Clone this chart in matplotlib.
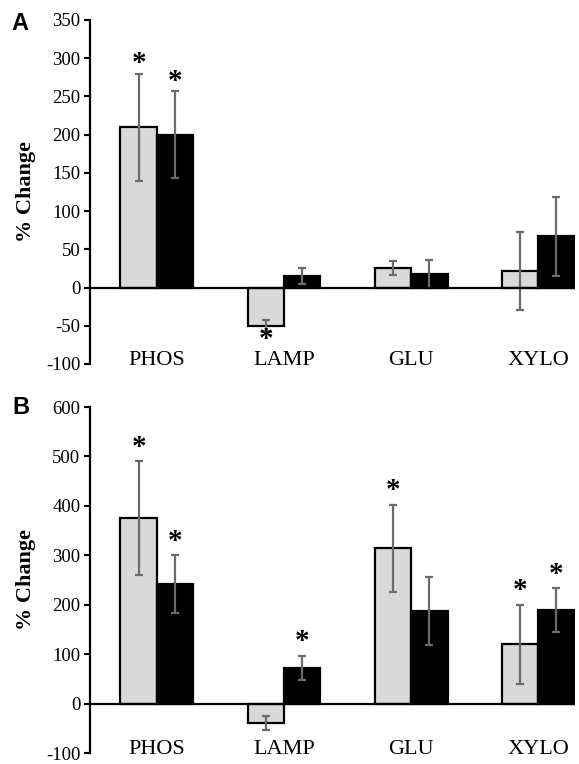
import numpy as np
import matplotlib
matplotlib.use("Agg")
import matplotlib.pyplot as plt

# data
groups = ["PHOS", "LAMP", "GLU", "XYLO"]

a_light = [210, -50, 26, 22]
a_light_err = [70, 7, 9, 51]
a_dark = [200, 15, 18, 67]
a_dark_err = [57, 10, 18, 52]
a_light_star = [True, True, False, False]
a_dark_star = [True, False, False, False]

b_light = [375, -40, 314, 120]
b_light_err = [115, 14, 88, 80]
b_dark = [242, 72, 187, 189]
b_dark_err = [58, 25, 69, 45]
b_light_star = [True, False, True, True]
b_dark_star = [True, True, False, True]

a_ticks = list(range(-100, 351, 50))
b_ticks = list(range(-100, 601, 100))

plt.rcParams["font.family"] = ["Liberation Serif", "DejaVu Serif"]

W, H = 579, 764
fig = plt.figure(figsize=(W / 100, H / 100), dpi=100)


def px_axes(x0, y0, x1, y1):
    # pixel box -> figure fraction
    return fig.add_axes([x0 / W, 1 - y1 / H, (x1 - x0) / W, (y1 - y0) / H])


def panel(ax, light, light_err, dark, dark_err, lstar, dstar, ticks, star_off):
    x = np.arange(len(groups))
    bw = 0.287
    ekw = dict(ecolor="#6b6b6b", elinewidth=1.6, capsize=3, capthick=1.6)
    ax.bar(x - bw / 2, light, bw, color="#d9d9d9", edgecolor="black",
           linewidth=1.6, yerr=light_err, error_kw=ekw, zorder=2)
    ax.bar(x + bw / 2, dark, bw, color="black", edgecolor="black",
           linewidth=1.6, yerr=dark_err, error_kw=ekw, zorder=2)
    ax.axhline(0, color="black", linewidth=1.6, zorder=3)

    for vals, errs, stars, off in [(light, light_err, lstar, -bw / 2),
                                   (dark, dark_err, dstar, bw / 2)]:
        for i, (v, e, s) in enumerate(zip(vals, errs, stars)):
            if not s:
                continue
            if v >= 0:
                y, dy = v + e, star_off
            else:
                y, dy = v - e, -6
            ax.annotate("*", (i + off, y), xytext=(0, dy), textcoords="offset points",
                        ha="center", va="center", fontsize=21, fontweight="bold")

    ax.set_xlim(-0.527, 3.29)
    ax.set_ylim(ticks[0], ticks[-1])
    ax.set_yticks(ticks)
    ax.set_yticklabels([str(t) for t in ticks], fontsize=13.5)
    ax.set_xticks(x)
    ax.set_xticklabels(groups, fontsize=16)
    ax.tick_params(axis="x", length=0, pad=-9.5)
    ax.tick_params(axis="y", direction="out", length=4, width=1.5, pad=3)
    for s in ["top", "right", "bottom"]:
        ax.spines[s].set_visible(False)
    ax.spines["left"].set_linewidth(1.6)
    ax.set_ylabel("% Change", fontsize=16, fontweight="bold")
    ax.yaxis.set_label_coords(-0.112, 0.5)


ax1 = px_axes(90, 20, 575, 364)
panel(ax1, a_light, a_light_err, a_dark, a_dark_err, a_light_star, a_dark_star, a_ticks, 7)
ax2 = px_axes(90, 407, 575, 753)
panel(ax2, b_light, b_light_err, b_dark, b_dark_err, b_light_star, b_dark_star, b_ticks, 10)

fig.text(20 / W, 1 - 24 / H, "A", ha="center", va="center", fontsize=17,
         fontweight="bold", family="Liberation Sans")
fig.text(20.5 / W, 1 - 408 / H, "B", ha="center", va="center", fontsize=17,
         fontweight="bold", family="Liberation Sans")

fig.savefig("out.png", dpi=100)
